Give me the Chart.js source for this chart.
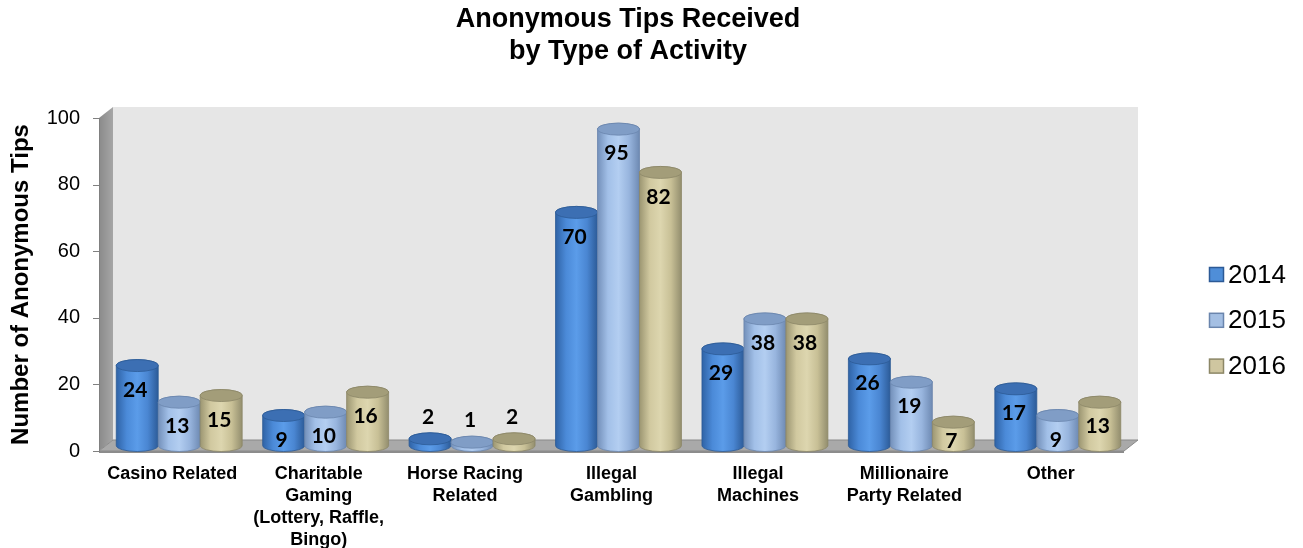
<!DOCTYPE html>
<html>
<head>
<meta charset="utf-8">
<script src="https://cdn.jsdelivr.net/npm/chart.js@4.4.1/dist/chart.umd.min.js"></script>
<style>
html,body{margin:0;padding:0;background:#ffffff;}
#wrap{width:1303px;height:548px;position:relative;}
</style>
</head>
<body>
<div id="wrap"><canvas id="c"></canvas></div>
<script>
// ---------- DATA ----------
const titleLines = ['Anonymous Tips Received', 'by Type of Activity'];
const categories = [
  ['Casino Related'],
  ['Charitable', 'Gaming', '(Lottery, Raffle,', 'Bingo)'],
  ['Horse Racing', 'Related'],
  ['Illegal', 'Gambling'],
  ['Illegal', 'Machines'],
  ['Millionaire', 'Party Related'],
  ['Other']
];
const seriesLabels = ['2014', '2015', '2016'];
const values2014 = [24, 9, 2, 70, 29, 26, 17];
const values2015 = [13, 10, 1, 95, 38, 19, 9];
const values2016 = [15, 16, 2, 82, 38, 7, 13];
const yTicks = [0, 20, 40, 60, 80, 100];
const yAxisTitle = 'Number of Anonymous Tips';

// ---------- STYLES ----------
const FONT = '"Liberation Sans", Arial, sans-serif';
const seriesStyle = [
  { base: '#4f8ed8', top: '#3c6fb3', edge: '#2c5a96',
    stops: ['#2f63a6', '#4b8ad8', '#5b9ce9', '#4a86d2', '#2c5b98'] },
  { base: '#a4bfe3', top: '#809dc6', edge: '#6a85ad',
    stops: ['#7390ba', '#a2c0e8', '#b3cef1', '#98b5de', '#6e8ab3'] },
  { base: '#cfc6a0', top: '#a39d79', edge: '#8c8767',
    stops: ['#9c9672', '#d1c9a0', '#ddd6af', '#c8c096', '#938e6e'] }
];
const WALL_SHIFT = 7, DY = 5.5, WALL_DX = 14, WALL_DY = 11, RY = 6;

const scene3d = {
  id: 'scene3d',
  beforeDatasetsDraw(chart) {
    const ctx = chart.ctx, ca = chart.chartArea, ys = chart.scales.y;
    const fL = ca.left - WALL_SHIFT, fR = ca.right - WALL_SHIFT;
    const bL = fL + WALL_DX, bR = fR + WALL_DX;
    const fB = ca.bottom, bB = ca.bottom - WALL_DY;
    const fT = ca.top, bT = ca.top - WALL_DY;
    ctx.save();
    // back wall
    ctx.fillStyle = '#e6e6e6';
    ctx.fillRect(bL, bT, bR - bL, bB - bT);
    // left wall
    let g = ctx.createLinearGradient(fL, 0, bL, 0);
    g.addColorStop(0, '#8a8a8a'); g.addColorStop(1, '#a6a6a6');
    ctx.fillStyle = g;
    ctx.beginPath();
    ctx.moveTo(fL, fT); ctx.lineTo(bL, bT); ctx.lineTo(bL, bB); ctx.lineTo(fL, fB); ctx.closePath();
    ctx.fill();
    // floor
    ctx.fillStyle = '#a9a9a9';
    ctx.beginPath();
    ctx.moveTo(fL, fB); ctx.lineTo(bL, bB); ctx.lineTo(bR, bB); ctx.lineTo(fR, fB); ctx.closePath();
    ctx.fill();
    ctx.strokeStyle = '#8a8a8a'; ctx.lineWidth = 1;
    ctx.stroke();
    ctx.fillStyle = '#8c8c8c';
    ctx.fillRect(fL, fB, fR - fL, 2);
    // value axis line + tick marks
    ctx.strokeStyle = '#808080'; ctx.lineWidth = 1;
    ctx.beginPath();
    ctx.moveTo(fL + 0.5, fT); ctx.lineTo(fL + 0.5, fB + 1);
    yTicks.forEach(v => {
      const py = Math.round(ys.getPixelForValue(v)) + 0.5;
      ctx.moveTo(fL - 6, py); ctx.lineTo(fL + 0.5, py);
    });
    ctx.stroke();

    // cylinders
    const metas = chart.data.datasets.map((_, d) => chart.getDatasetMeta(d));
    const labels = [];
    for (let i = 0; i < chart.data.labels.length; i++) {
      metas.forEach((meta, d) => {
        const el = meta.data[i];
        const p = el.getProps(['x', 'y', 'base', 'width'], true);
        const st = seriesStyle[d];
        const cx = p.x, rx = p.width / 2, top = p.y - DY, bot = p.base - DY;
        const grad = ctx.createLinearGradient(cx - rx, 0, cx + rx, 0);
        st.stops.forEach((c, k) => grad.addColorStop(k / (st.stops.length - 1), c));
        ctx.beginPath();
        ctx.moveTo(cx - rx, top);
        ctx.lineTo(cx - rx, bot);
        ctx.ellipse(cx, bot, rx, RY, 0, Math.PI, 0, true);
        ctx.lineTo(cx + rx, top);
        ctx.ellipse(cx, top, rx, RY, 0, 0, Math.PI, true);
        ctx.closePath();
        ctx.fillStyle = grad; ctx.fill();
        ctx.strokeStyle = st.edge; ctx.lineWidth = 0.8; ctx.stroke();
        ctx.beginPath();
        ctx.ellipse(cx, top, rx, RY, 0, 0, Math.PI * 2);
        ctx.fillStyle = st.top; ctx.fill();
        ctx.strokeStyle = st.edge; ctx.stroke();
        const v = chart.data.datasets[d].data[i];
        let ly;
        if (p.base - p.y < 15) ly = p.y - 27;
        else ly = Math.min(p.y + 19, ca.bottom - 10);
        labels.push([String(v), p.x - 2, ly]);
      });
    }
    ctx.fillStyle = '#000';
    ctx.font = 'bold 21px Lato, "Open Sans", sans-serif';
    ctx.textAlign = 'center'; ctx.textBaseline = 'middle';
    labels.forEach(([t, x, y]) => ctx.fillText(t, x, y));
    ctx.restore();
    return false;
  },
  afterDraw(chart) {
    const ctx = chart.ctx;
    ctx.save();
    // title
    ctx.fillStyle = '#000';
    ctx.font = 'bold 27px ' + FONT;
    ctx.textAlign = 'center'; ctx.textBaseline = 'alphabetic';
    ctx.fillText(titleLines[0], 628, 27);
    ctx.fillText(titleLines[1], 628, 59);
    // legend
    ctx.font = '26px ' + FONT;
    ctx.textAlign = 'left'; ctx.textBaseline = 'middle';
    chart.data.datasets.forEach((ds, d) => {
      const cy = 274.5 + d * 45.8;
      ctx.fillStyle = ds.backgroundColor;
      ctx.fillRect(1209.5, cy - 7, 14, 14);
      ctx.strokeStyle = ds.borderColor; ctx.lineWidth = 1.5;
      ctx.strokeRect(1209.5, cy - 7, 14, 14);
      ctx.fillStyle = '#000';
      ctx.fillText(ds.label, 1228, cy + 1);
    });
    ctx.restore();
  }
};

const seriesValues = [values2014, values2015, values2016];
new Chart(document.getElementById('c'), {
  type: 'bar',
  data: {
    labels: categories,
    datasets: seriesLabels.map((lab, d) => ({
      label: lab,
      data: seriesValues[d],
      backgroundColor: seriesStyle[d].base,
      borderColor: seriesStyle[d].edge,
      borderWidth: 0,
      categoryPercentage: 0.86,
      barPercentage: 1.0
    }))
  },
  options: {
    responsive: true,
    maintainAspectRatio: false,
    animation: false,
    layout: { padding: { left: 0, right: 172, top: 118, bottom: 0 } },
    plugins: { legend: { display: false }, title: { display: false }, tooltip: { enabled: false } },
    scales: {
      x: {
        grid: { display: false, drawTicks: false },
        border: { display: false },
        ticks: {
          color: '#000',
          font: { family: FONT, size: 18, weight: 'bold', lineHeight: 1.22 },
          padding: 12,
          labelOffset: -7,
          maxRotation: 0,
          autoSkip: false
        },
        afterFit(s) { s.height = 97; }
      },
      y: {
        min: 0, max: 100,
        grid: { display: false, drawTicks: false },
        border: { display: false },
        afterBuildTicks(s) { s.ticks = yTicks.map(v => ({ value: v })); },
        ticks: { color: '#000', font: { family: FONT, size: 20 }, padding: 26 },
        title: {
          display: true, text: yAxisTitle, color: '#000',
          font: { family: FONT, size: 24, weight: 'bold' },
          padding: { top: 7, bottom: 0 }
        },
        afterFit(s) { s.width = 106; }
      }
    }
  },
  plugins: [scene3d]
});
</script>
</body>
</html>
